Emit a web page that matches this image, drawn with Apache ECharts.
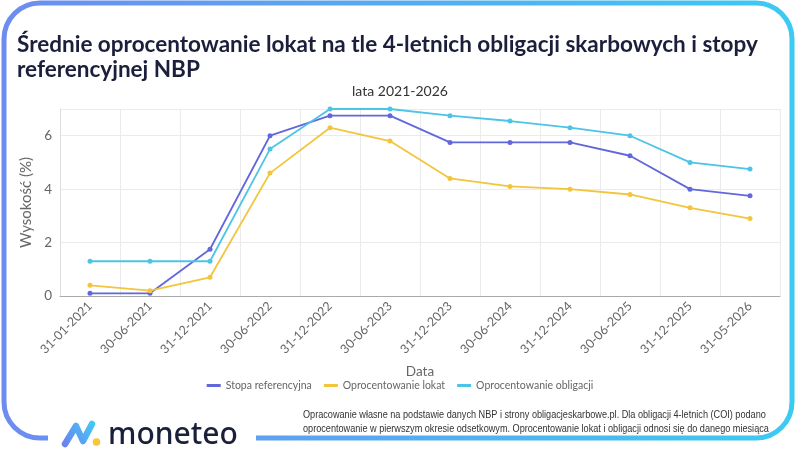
<!DOCTYPE html>
<html>
<head>
<meta charset="utf-8">
<script src="https://cdn.jsdelivr.net/npm/echarts@6/dist/echarts.min.js"></script>
<style>
  html, body { margin: 0; padding: 0; background: #fff; }
  #container { width: 800px; height: 450px; }
</style>
</head>
<body>
<div id="container"></div>
<script>
// dane z wykresu
var dates = ['31-01-2021', '30-06-2021', '31-12-2021', '30-06-2022', '31-12-2022', '30-06-2023',
             '31-12-2023', '30-06-2024', '31-12-2024', '30-06-2025', '31-12-2025', '31-05-2026'];
var stopaRef = [0.1, 0.1, 1.75, 6.0, 6.75, 6.75, 5.75, 5.75, 5.75, 5.25, 4.0, 3.75];
var lokaty = [0.4, 0.2, 0.7, 4.6, 6.3, 5.8, 4.4, 4.1, 4.0, 3.8, 3.3, 2.9];
var obligacje = [1.3, 1.3, 1.3, 5.5, 7.0, 7.0, 6.75, 6.55, 6.3, 6.0, 5.0, 4.75];
var seriesNames = ['Stopa referencyjna', 'Oprocentowanie lokat', 'Oprocentowanie obligacji'];
var colors = ['#6367dc', '#f2c53d', '#4cc4e6'];

var dom = document.getElementById('container');
var myChart = echarts.init(dom);

var frameGrad = new echarts.graphic.LinearGradient(0, 0, 1, 0, [
    { offset: 0, color: '#6e8cf0' },
    { offset: 1, color: '#3ccaf2' }
]);
var logoGrad = new echarts.graphic.LinearGradient(0, 1, 1, 0, [
    { offset: 0, color: '#6f7bf0' },
    { offset: 1, color: '#3fd0f4' }
]);

function lineSeries(name, data, color) {
    return {
        name: name,
        type: 'line',
        data: data,
        symbol: 'circle',
        symbolSize: 5,
        lineStyle: { color: color, width: 1.8 },
        itemStyle: { color: color }
    };
}

var option = {
    textStyle: { fontFamily: 'Lato' },
    title: [{
        text: 'Średnie oprocentowanie lokat na tle 4-letnich obligacji skarbowych i stopy\nreferencyjnej NBP',
        left: 12,
        top: 27,
        textStyle: { fontFamily: 'Lato', fontWeight: 'bold', fontSize: 22.5, color: '#1b1f3b', lineHeight: 25 }
    }, {
        text: 'lata 2021-2026',
        left: 'center',
        top: 79,
        textStyle: { fontFamily: 'Lato', fontWeight: 'normal', fontSize: 14, color: '#333' }
    }],
    legend: {
        data: seriesNames,
        left: 'center',
        top: 375,
        itemWidth: 14,
        itemHeight: 3,
        itemGap: 12,
        icon: 'rect',
        textStyle: { color: '#666', fontSize: 10.5, fontFamily: 'Lato' }
    },
    grid: { left: 60, right: 20, top: 109, bottom: 154 },
    xAxis: {
        type: 'category',
        data: dates,
        name: 'Data',
        nameLocation: 'middle',
        nameGap: 69,
        nameTextStyle: { color: '#666', fontSize: 13.5, fontFamily: 'Lato' },
        axisLine: { lineStyle: { color: '#aaa' } },
        axisTick: { alignWithLabel: true, length: 4, lineStyle: { color: '#ccc' } },
        axisLabel: { rotate: 45, color: '#666', fontSize: 12.5, margin: 8, interval: 0 },
        splitLine: { show: true, lineStyle: { color: '#ebebeb' } }
    },
    yAxis: {
        type: 'value',
        min: 0,
        max: 7,
        interval: 2,
        name: 'Wysokość (%)',
        nameLocation: 'middle',
        nameGap: 19,
        nameTextStyle: { color: '#666', fontSize: 15, fontFamily: 'Lato' },
        axisLine: { show: true, lineStyle: { color: '#ddd' } },
        axisLabel: { color: '#666', fontSize: 13.5, margin: 8, showMaxLabel: false },
        splitLine: { lineStyle: { color: '#ebebeb' } }
    },
    series: [
        lineSeries(seriesNames[0], stopaRef, colors[0]),
        lineSeries(seriesNames[1], lokaty, colors[1]),
        lineSeries(seriesNames[2], obligacje, colors[2])
    ],
    graphic: [
        {
            type: 'rect',
            shape: { x: 4, y: 3, width: 788, height: 435, r: 36 },
            style: { fill: null, stroke: frameGrad, lineWidth: 5 },
            silent: true
        },
        {
            type: 'rect',
            shape: { x: 48, y: 430, width: 208, height: 20 },
            style: { fill: '#fff' },
            silent: true
        },
        {
            type: 'polyline',
            shape: { points: [[65, 444], [76, 426], [83, 441], [92, 424]] },
            style: { stroke: logoGrad, lineWidth: 6.5, lineJoin: 'round', lineCap: 'round', fill: null },
            silent: true
        },
        {
            type: 'circle',
            shape: { cx: 96.5, cy: 442, r: 3.8 },
            style: { fill: '#f7c63a' },
            silent: true
        },
        {
            type: 'text',
            x: 108,
            y: 420,
            style: { text: 'moneteo', fill: '#1a1f3a', font: '500 30px "Noto Sans"', textVerticalAlign: 'top' },
            silent: true
        },
        {
            type: 'text',
            x: 303,
            y: 408,
            scaleX: 0.83,
            style: {
                text: 'Opracowanie własne na podstawie danych NBP i strony obligacjeskarbowe.pl. Dla obligacji 4-letnich (COI) podano\noprocentowanie w pierwszym okresie odsetkowym. Oprocentowanie lokat i obligacji odnosi się do danego miesiąca',
                fill: '#333',
                font: '11px "Liberation Sans", Arial',
                lineHeight: 14,
                textVerticalAlign: 'top'
            },
            silent: true
        }
    ]
};

if (option && typeof option === 'object') {
    myChart.setOption(option, true);
}
</script>
</body>
</html>
